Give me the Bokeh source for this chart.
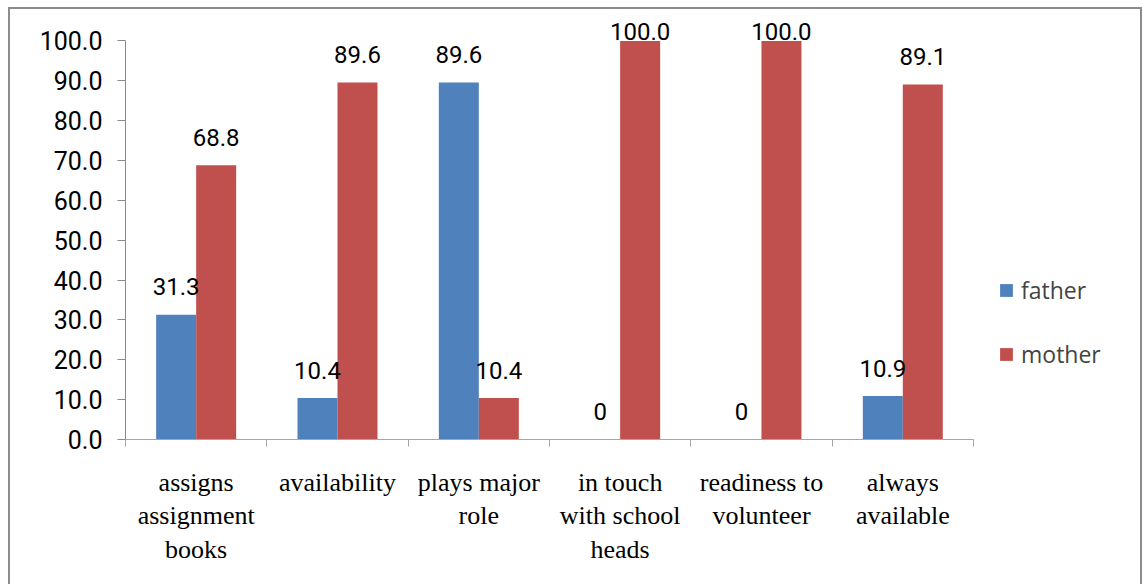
import numpy as np
from bokeh.plotting import figure
from bokeh.models import ColumnDataSource, FixedTicker, Legend, LegendItem, NumeralTickFormatter, Range1d
from bokeh.core.properties import value
from bokeh.embed import file_html
from bokeh.resources import INLINE

categories = ["assigns\nassignment\nbooks", "availability", "plays major\nrole",
              "in touch\nwith school\nheads", "readiness to\nvolunteer", "always\navailable"]
father = [31.3, 10.4, 89.6, 0, 0, 10.9]
mother = [68.8, 89.6, 10.4, 100.0, 100.0, 89.1]
father_labels = ["31.3", "10.4", "89.6", "0", "0", "10.9"]
mother_labels = ["68.8", "89.6", "10.4", "100.0", "100.0", "89.1"]
y_ticks = [0, 10, 20, 30, 40, 50, 60, 70, 80, 90, 100]

BLUE = "#4F81BD"
RED = "#C0504D"
AXIS = "#8a8a8a"
NUM_FONT = "Roboto"
BAR_W = 0.283

n = len(categories)
centers = np.arange(n) + 0.5


def label_offset(vals):
    return [-9 if v >= 100 else -28 for v in vals]


src_f = ColumnDataSource(dict(x=centers - BAR_W / 2, top=father, lab=father_labels,
                              off=label_offset(father)))
src_m = ColumnDataSource(dict(x=centers + BAR_W / 2, top=mother, lab=mother_labels,
                              off=label_offset(mother)))

p = figure(frame_width=1003, frame_height=428, min_border_left=115, min_border_right=12,
           min_border_top=2, min_border_bottom=150,
           x_range=Range1d(0, 7.097), y_range=Range1d(0, 107.4),
           output_backend="svg", toolbar_location=None)
p.styles = {"border": "2px solid #8c8c8c", "margin-left": "8px", "margin-top": "7px"}
p.outline_line_color = None
p.xgrid.visible = False
p.ygrid.visible = False
p.background_fill_color = "white"
p.border_fill_color = "white"

rf = p.vbar(x="x", top="top", width=BAR_W, source=src_f, color=BLUE, line_color=None)
rm = p.vbar(x="x", top="top", width=BAR_W, source=src_m, color=RED, line_color=None)

for s in (src_f, src_m):
    p.text(x="x", y="top", text="lab", source=s, y_offset="off",
           text_align="center", text_baseline="alphabetic",
           text_font=value(NUM_FONT), text_font_size="24px", text_color="#000000")

# y axis
ya = p.yaxis[0]
ya.ticker = FixedTicker(ticks=y_ticks)
ya.formatter = NumeralTickFormatter(format="0.0")
ya.bounds = (0, 100)
ya.axis_line_color = AXIS
ya.major_tick_line_color = AXIS
ya.major_tick_out = 8
ya.major_tick_in = 0
ya.minor_tick_line_color = None
ya.major_label_text_font = NUM_FONT
ya.major_label_text_font_size = "25px"
ya.major_label_text_color = "#000000"
ya.major_label_standoff = 15

# x axis
xa = p.xaxis[0]
xa.ticker = FixedTicker(ticks=list(centers), minor_ticks=list(range(n + 1)))
xa.major_label_overrides = {float(c): lab for c, lab in zip(centers, categories)}
xa.bounds = (0, n)
xa.axis_line_color = "#a6a6a6"
xa.major_tick_line_color = None
xa.minor_tick_line_color = "#a6a6a6"
xa.minor_tick_out = 7
xa.minor_tick_in = 0
xa.major_label_text_font = "Liberation Serif"
xa.major_label_text_font_size = "26px"
xa.major_label_text_color = "#000000"
xa.major_label_text_line_height = 1.156
xa.major_label_standoff = 21

legend = Legend(items=[LegendItem(label="father", renderers=[rf]),
                       LegendItem(label="mother", renderers=[rm])],
                location=(873, 69), padding=0, margin=0, spacing=32,
                glyph_width=16, glyph_height=16, label_height=20, label_standoff=7,
                label_text_font="Open Sans", label_text_font_size="23px",
                border_line_color=None, background_fill_alpha=0)
p.add_layout(legend, "center")

open("out.html", "w").write(file_html(p, INLINE))
